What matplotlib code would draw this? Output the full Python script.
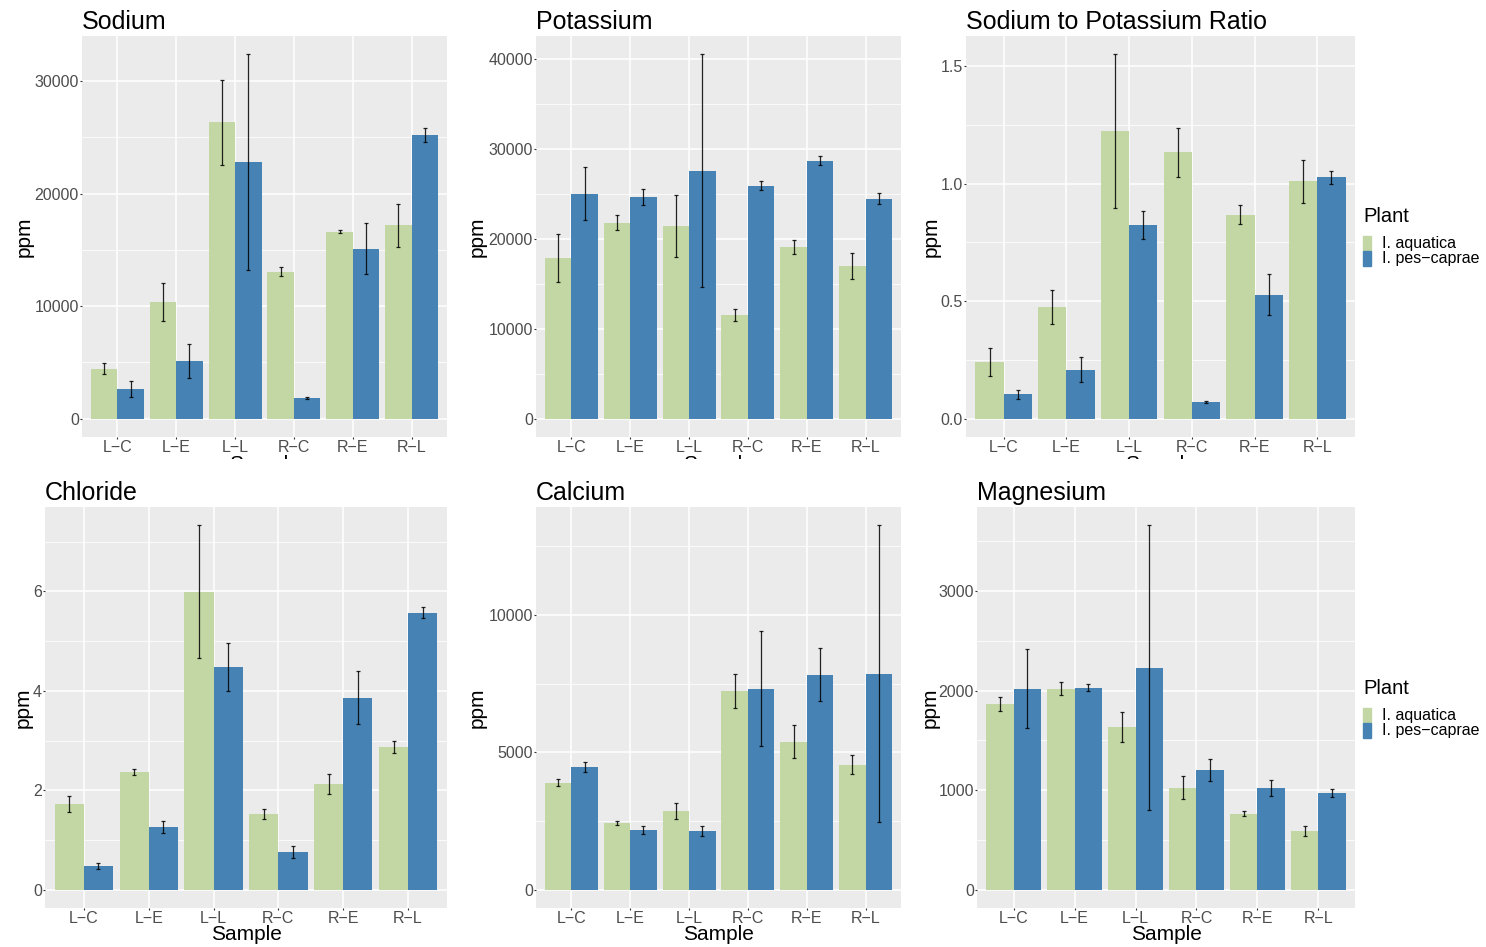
import numpy as np
import matplotlib
matplotlib.use("Agg")
import matplotlib.pyplot as plt
from matplotlib.patches import Rectangle
from matplotlib.transforms import Bbox, TransformedBbox

plt.rcParams["font.family"] = ["Liberation Sans", "DejaVu Sans"]

samples = ["L\u2212C", "L\u2212E", "L\u2212L", "R\u2212C", "R\u2212E", "R\u2212L"]
plants = ["I. aquatica", "I. pes\u2212caprae"]

# means and standard errors, one pair of lists per plant
na_aq = [4430, 10390, 26340, 13070, 16630, 17170]
na_aq_se = [490, 1680, 3790, 430, 135, 1930]
na_pc = [2640, 5140, 22780, 1840, 15120, 25190]
na_pc_se = [685, 1515, 9600, 120, 2270, 640]

k_aq = [17880, 21780, 21450, 11540, 19110, 16990]
k_aq_se = [2635, 835, 3450, 670, 760, 1445]
k_pc = [25010, 24680, 27570, 25900, 28680, 24450]
k_pc_se = [2915, 875, 12930, 500, 500, 630]

ratio_aq = [0.242, 0.476, 1.223, 1.133, 0.869, 1.010]
ratio_aq_se = [0.058, 0.071, 0.328, 0.105, 0.041, 0.090]
ratio_pc = [0.105, 0.208, 0.826, 0.071, 0.528, 1.027]
ratio_pc_se = [0.019, 0.053, 0.060, 0.005, 0.087, 0.029]

cl_aq = [1.725, 2.369, 5.993, 1.523, 2.128, 2.872]
cl_aq_se = [0.161, 0.054, 1.336, 0.108, 0.202, 0.124]
cl_pc = [0.477, 1.262, 4.483, 0.758, 3.859, 5.570]
cl_pc_se = [0.067, 0.121, 0.483, 0.128, 0.534, 0.114]

ca_aq = [3890, 2430, 2870, 7250, 5390, 4550]
ca_aq_se = [128, 67, 304, 615, 590, 353]
ca_pc = [4480, 2180, 2140, 7320, 7835, 7870]
ca_pc_se = [183, 153, 177, 2087, 980, 5400]

mg_aq = [1869, 2020, 1638, 1023, 762, 591]
mg_aq_se = [69, 66, 150, 116, 25, 49]
mg_pc = [2020, 2030, 2232, 1205, 1023, 973]
mg_pc_se = [398, 34, 1430, 111, 76, 40]

green = "#C3D7A4"
blue = "#4682B4"

W, H = 1486, 947
fig = plt.figure(figsize=(W / 100, H / 100), dpi=100)


def px_rect(l, t, r, b):
    return [l / W, 1 - b / H, (r - l) / W, (b - t) / H]


def panel(box, title, aq, aq_se, pc, pc_se, major, minor, fmt="{:g}"):
    ax = fig.add_axes(px_rect(*box))
    x = np.arange(1, len(samples) + 1)
    ax.set_facecolor("#EBEBEB")
    for s in ax.spines.values():
        s.set_visible(False)
    top = max(np.max(np.add(aq, aq_se)), np.max(np.add(pc, pc_se)))
    pad = 0.05 * top
    ax.set_ylim(-pad, top + pad)
    ax.set_xlim(0.4, 6.6)
    ax.set_yticks(major)
    ax.set_yticks(minor, minor=True)
    ax.set_yticklabels([fmt.format(v) for v in major])
    ax.set_xticks(x)
    ax.set_xticklabels(samples)
    ax.grid(which="major", color="white", lw=1.1)
    ax.grid(which="minor", axis="y", color="white", lw=0.55)
    ax.set_axisbelow(True)
    ax.tick_params(which="major", length=1.2, width=0.8, color="#333333",
                   labelcolor="#4D4D4D", labelsize=11.5, pad=1)
    ax.tick_params(which="minor", length=0)
    ax.bar(x - 0.225, aq, width=0.45, color=green, zorder=2)
    ax.bar(x + 0.225, pc, width=0.45, color=blue, zorder=2)
    ax.errorbar(x - 0.225, aq, yerr=aq_se, fmt="none", ecolor="black",
                elinewidth=0.9, capsize=1.5, capthick=0.9, alpha=0.85, zorder=3)
    ax.errorbar(x + 0.225, pc, yerr=pc_se, fmt="none", ecolor="black",
                elinewidth=0.9, capsize=1.5, capthick=0.9, alpha=0.85, zorder=3)
    ax.set_title(title, loc="left", fontsize=18, pad=5)
    return ax


boxes = [
    (82, 36, 447, 437),
    (536, 36, 901, 437),
    (966, 36, 1355, 437),
    (45, 507, 447, 908),
    (536, 507, 901, 908),
    (977, 507, 1355, 908),
]

panel(boxes[0], "Sodium", na_aq, na_aq_se, na_pc, na_pc_se,
      [0, 10000, 20000, 30000], [5000, 15000, 25000])
panel(boxes[1], "Potassium", k_aq, k_aq_se, k_pc, k_pc_se,
      [0, 10000, 20000, 30000, 40000], [5000, 15000, 25000, 35000])
panel(boxes[2], "Sodium to Potassium Ratio", ratio_aq, ratio_aq_se, ratio_pc, ratio_pc_se,
      [0, 0.5, 1.0, 1.5], [0.25, 0.75, 1.25], fmt="{:.1f}")
panel(boxes[3], "Chloride", cl_aq, cl_aq_se, cl_pc, cl_pc_se,
      [0, 2, 4, 6], [1, 3, 5, 7])
panel(boxes[4], "Calcium", ca_aq, ca_aq_se, ca_pc, ca_pc_se,
      [0, 5000, 10000], [2500, 7500, 12500])
panel(boxes[5], "Magnesium", mg_aq, mg_aq_se, mg_pc, mg_pc_se,
      [0, 1000, 2000, 3000], [500, 1500, 2500, 3500])

# axis titles
ylab_x = [24, 477, 931, 23, 477, 930]
for (l, t, r, b), yx in zip(boxes, ylab_x):
    fig.text(yx / W, 1 - (t + b) / 2 / H, "ppm", rotation=90, ha="center",
             va="center", fontsize=15)

for l, t, r, b in boxes[3:]:
    fig.text((l + r) / 2 / W, 1 - 934 / H, "Sample", ha="center", va="center",
             fontsize=15)

# top-row x titles sit under the lower panels, only their tops show
clip = TransformedBbox(Bbox([[0, 1 - 459 / H], [1, 1]]), fig.transFigure)
for l, t, r, b in boxes[:3]:
    txt = fig.text((l + r) / 2 / W, 1 - 464 / H, "Sample", ha="center",
                   va="center", fontsize=15)
    txt.set_clip_box(clip)
    txt.set_clip_on(True)

# legends beside the right-hand panels
for title_y in (216, 688):
    fig.text(1363 / W, 1 - title_y / H, "Plant", ha="left", va="center",
             fontsize=14.5)
    for i, (name, col) in enumerate(zip(plants, [green, blue])):
        y0 = title_y + 20 + i * 15
        fig.patches.append(Rectangle((1363 / W, 1 - (y0 + 15) / H), 8 / W, 15 / H,
                                     transform=fig.transFigure, color=col))
        fig.text(1382 / W, 1 - (y0 + 7.5) / H, name, ha="left", va="center",
                 fontsize=11.5)

fig.savefig("out.png", dpi=100)
